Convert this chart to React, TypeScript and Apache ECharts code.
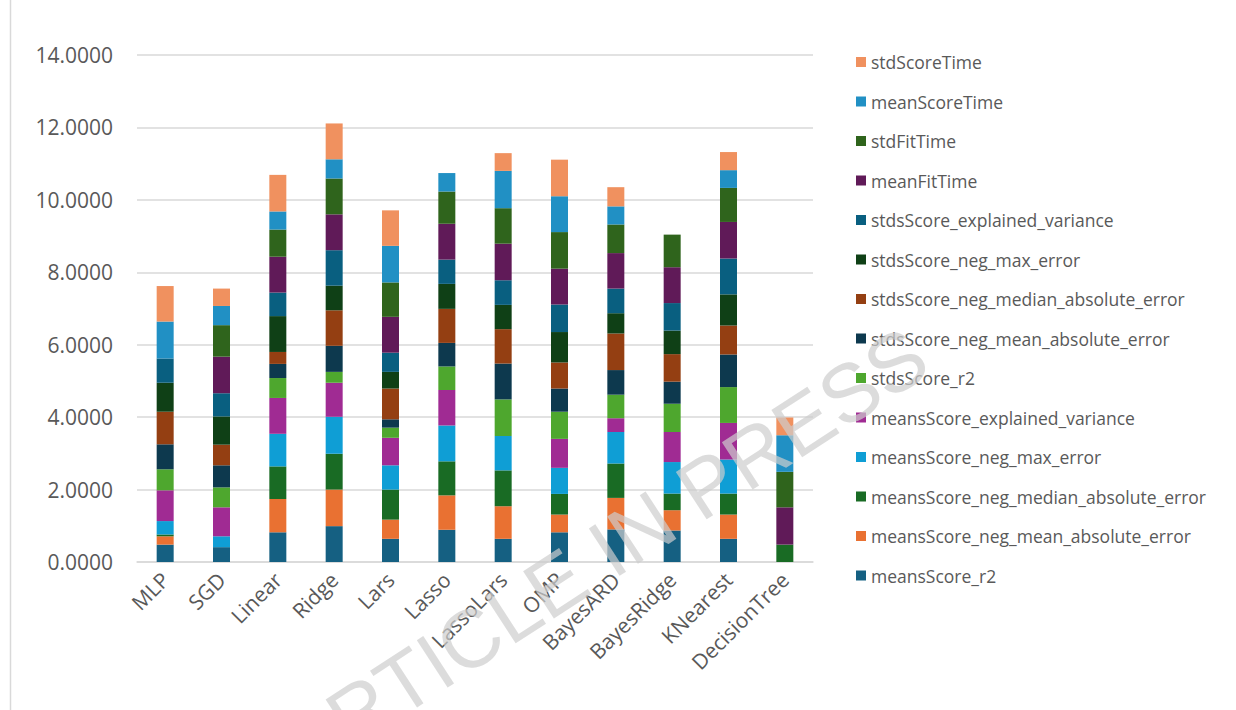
import React, { useEffect, useRef } from "react";
import * as echarts from "echarts";

const categories = ["MLP", "SGD", "Linear", "Ridge", "Lars", "Lasso", "LassoLars", "OMP", "BayesARD", "BayesRidge", "KNearest", "DecisionTree"];

const yTicks = { min: 0, max: 14, interval: 2 };

const meansScore_r2 = [0.48, 0.41, 0.82, 0.99, 0.64, 0.89, 0.64, 0.82, 0.9, 0.87, 0.64, 0];
const meansScore_neg_mean_absolute_error = [0.23, 0, 0.92, 1.01, 0.53, 0.95, 0.9, 0.49, 0.87, 0.56, 0.67, 0];
const meansScore_neg_median_absolute_error = [0.05, 0, 0.9, 0.99, 0.83, 0.94, 0.99, 0.57, 0.95, 0.46, 0.58, 0.48];
const meansScore_neg_max_error = [0.37, 0.3, 0.9, 1.02, 0.67, 0.99, 0.95, 0.72, 0.87, 0.87, 0.94, 0];
const meansScore_explained_variance = [0.85, 0.8, 0.99, 0.94, 0.76, 0.98, 0, 0.8, 0.38, 0.83, 1.01, 0];
const stdsScore_r2 = [0.58, 0.55, 0.55, 0.3, 0.28, 0.65, 1.01, 0.75, 0.65, 0.78, 0.99, 0];
const stdsScore_neg_mean_absolute_error = [0.69, 0.61, 0.39, 0.72, 0.23, 0.65, 0.99, 0.64, 0.68, 0.61, 0.9, 0];
const stdsScore_neg_median_absolute_error = [0.9, 0.57, 0.33, 0.98, 0.85, 0.94, 0.95, 0.72, 1.01, 0.76, 0.8, 0];
const stdsScore_neg_max_error = [0.8, 0.78, 0.99, 0.68, 0.46, 0.69, 0.67, 0.84, 0.56, 0.65, 0.86, 0];
const stdsScore_explained_variance = [0.67, 0.64, 0.65, 0.98, 0.53, 0.67, 0.68, 0.76, 0.68, 0.76, 0.99, 0];
const meanFitTime = [0, 1.01, 0.99, 0.99, 0.99, 0.99, 1.01, 0.99, 0.98, 0.99, 1.01, 1.03];
const stdFitTime = [0, 0.87, 0.75, 0.99, 0.95, 0.89, 0.98, 1.01, 0.79, 0.9, 0.94, 0.98];
const meanScoreTime = [1.02, 0.53, 0.5, 0.53, 1.01, 0.51, 1.03, 0.99, 0.5, 0, 0.49, 1.01];
const stdScoreTime = [0.98, 0.48, 1.01, 0.99, 0.98, 0, 0.49, 1.01, 0.53, 0, 0.5, 0.49];

const seriesList: [string, number[], string][] = [
  ["meansScore_r2", meansScore_r2, "#156082"],
  ["meansScore_neg_mean_absolute_error", meansScore_neg_mean_absolute_error, "#E97132"],
  ["meansScore_neg_median_absolute_error", meansScore_neg_median_absolute_error, "#196B24"],
  ["meansScore_neg_max_error", meansScore_neg_max_error, "#0F9ED5"],
  ["meansScore_explained_variance", meansScore_explained_variance, "#A02B93"],
  ["stdsScore_r2", stdsScore_r2, "#4EA72E"],
  ["stdsScore_neg_mean_absolute_error", stdsScore_neg_mean_absolute_error, "#0D394E"],
  ["stdsScore_neg_median_absolute_error", stdsScore_neg_median_absolute_error, "#943F12"],
  ["stdsScore_neg_max_error", stdsScore_neg_max_error, "#0F4016"],
  ["stdsScore_explained_variance", stdsScore_explained_variance, "#095F80"],
  ["meanFitTime", meanFitTime, "#601A58"],
  ["stdFitTime", stdFitTime, "#2F641C"],
  ["meanScoreTime", meanScoreTime, "#2190C4"],
  ["stdScoreTime", stdScoreTime, "#F0915F"],
];

const FONT = "'Open Sans', 'Noto Sans', sans-serif";

export default function App() {
  const ref = useRef<HTMLDivElement>(null);
  useEffect(() => {
    const chart = echarts.init(ref.current!, null, { renderer: "svg" });
    chart.setOption({
      animation: false,
      backgroundColor: "#ffffff",
      grid: { left: 137, right: 423, top: 55, bottom: 148, containLabel: false },
      legend: {
        orient: "vertical",
        left: 851,
        top: 48,
        itemWidth: 10,
        itemHeight: 10,
        itemGap: 21.5,
        icon: "rect",
        data: seriesList.map((s) => s[0]).reverse(),
        textStyle: { fontSize: 17.5, color: "#595959", fontFamily: FONT },
      },
      xAxis: {
        type: "category",
        data: categories,
        axisLine: { lineStyle: { color: "#d9d9d9", width: 1.5 } },
        axisTick: { show: false },
        axisLabel: { rotate: 45, fontSize: 21, color: "#595959", fontFamily: FONT, margin: 14, interval: 0 },
      },
      yAxis: {
        type: "value",
        min: yTicks.min,
        max: yTicks.max,
        interval: yTicks.interval,
        axisLine: { show: false },
        axisTick: { show: false },
        splitLine: { lineStyle: { color: "#d9d9d9", width: 1.5 } },
        axisLabel: {
          fontSize: 21,
          color: "#595959",
          fontFamily: FONT,
          margin: 24,
          formatter: (v: number) => v.toFixed(4),
        },
      },
      series: seriesList.map(([name, data, color]) => ({
        name,
        type: "bar",
        stack: "total",
        barWidth: 17,
        data,
        itemStyle: { color },
      })),
      graphic: [
        {
          type: "line",
          shape: { x1: 10.5, y1: 0, x2: 10.5, y2: 710 },
          style: { stroke: "#d9d9d9", lineWidth: 1.5 },
        },
        {
          type: "text",
          x: 604,
          y: 552,
          rotation: (33 * Math.PI) / 180,
          z: 100,
          style: {
            text: "ARTICLE IN PRESS",
            fontSize: 82,
            fontFamily: "'Liberation Sans', sans-serif",
            fill: "rgba(205,205,205,0.7)",
            align: "center",
            verticalAlign: "middle",
          },
        },
      ],
    });
    return () => chart.dispose();
  }, []);
  return <div ref={ref} style={{ position: "absolute", left: 0, top: 0, width: 1236, height: 710 }} />;
}
